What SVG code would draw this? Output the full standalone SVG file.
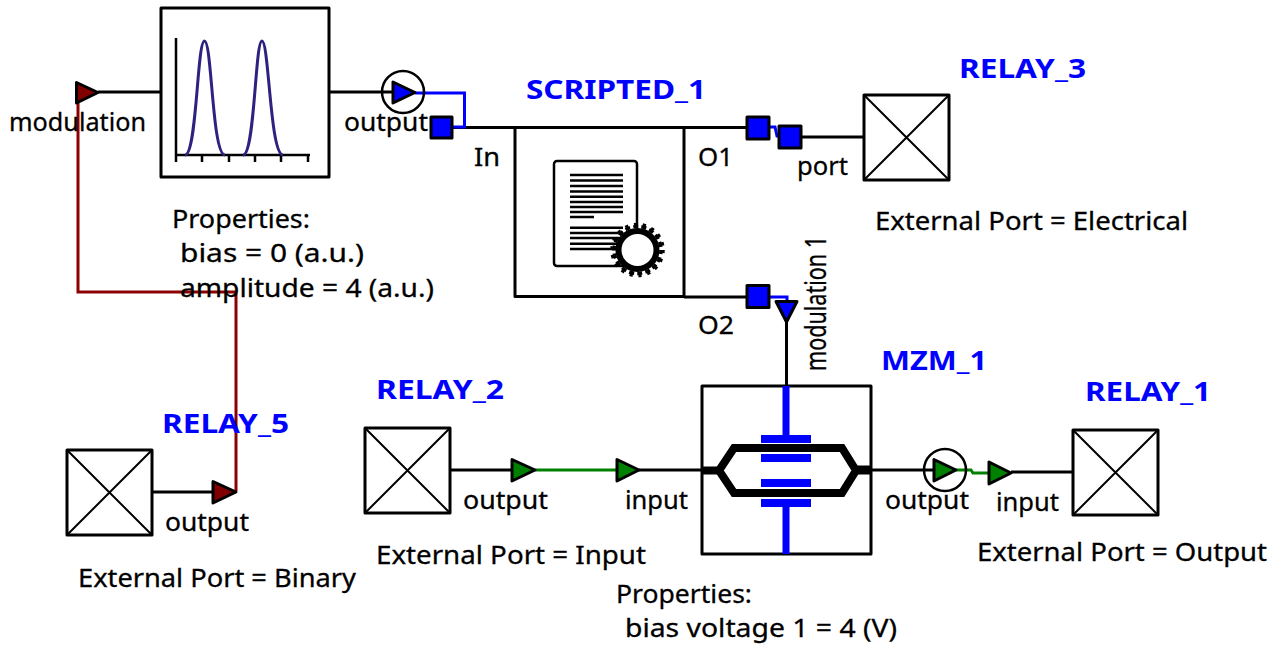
<svg xmlns="http://www.w3.org/2000/svg" width="1282" height="650" viewBox="0 0 1282 650">
<style>
.t{font-family:"Noto Sans","DejaVu Sans",sans-serif;font-size:26px;fill:#000;stroke:#000;stroke-width:.3}
.n{font-family:"Noto Sans","DejaVu Sans",sans-serif;font-size:27.500px;font-weight:700;fill:#0000ff}
.box{fill:#fff;stroke:#000;stroke-width:3;stroke-linejoin:round}
.x{stroke:#000;stroke-width:2;fill:none}
.w{fill:none;stroke:#000;stroke-width:3}
.r{fill:none;stroke:#8b0000;stroke-width:3}
.b{fill:none;stroke:#0000ff;stroke-width:3}
.g{fill:none;stroke:#008000;stroke-width:3}
.tr{stroke:#000;stroke-width:3;stroke-linejoin:round}
.sq{fill:#0000ff;stroke:#000;stroke-width:3;stroke-linejoin:round}
.ring{fill:none;stroke:#000;stroke-width:2.500}
.bl{fill:#0000ff}
</style>
<rect width="1282" height="650" fill="#fff"/>
<g id="connectors">
<path class="w" d="M98 92H161M330 92H393M452 127.500H515M684 127.500H747M684 297H747M801 137H864M786.500 322V386M450 470H512M639 470H702M871 470H934M1011 472H1073M152 492H213"/>
<path class="r" d="M78 103V292H236V491"/>
<path class="b" d="M415 93H464.500V127H452M769 127H775L777 136H779M769 297H787V301"/>
<path class="g" d="M535 470H617M956 470H971L973 473H989"/>
</g>
<g id="pulse">
<rect class="box" x="161" y="8" width="168" height="169"/>
<path d="M176 38V155M176 155H310M176 155V162M202 155V162M229 155V162M255 155V162M281 155V162M308 155V162" fill="none" stroke="#000" stroke-width="2.500"/>
<path d="M185 155C197 155 197 41 204.500 41C212 41 212 155 225 155M243 155C255 155 255 41 262 41C269 41 270 155 283 155" fill="none" stroke="#2e2280" stroke-width="3"/>
</g>
<g id="port-modulation"><path class="tr" fill="#800000" d="M76.500 82.500V103L98 92.500Z"/></g>
<g id="port-pulse-output">
<circle class="ring" cx="403" cy="92" r="21"/>
<path class="tr" fill="#0000ff" d="M393 82V103L415 92.500Z"/>
<rect class="sq" x="431" y="117" width="21" height="21"/>
</g>
<g id="scripted">
<rect class="box" x="515" y="127.500" width="169" height="169"/>
<rect x="554" y="161" width="83" height="105" rx="3" fill="#fff" stroke="#000" stroke-width="2.500"/>
<path d="M570 175H623M570 180.500H623M570 186H623M570 191.500H623M570 196.700H623M570 202H623M570 207H623M570 212H623M570 217H594M570 227.700H623M570 233H623M570 238H623M570 243.700H623M570 249H623" stroke="#000" stroke-width="2.500" fill="none"/>
<circle cx="637.500" cy="250" r="19" fill="#fff" stroke="#000" stroke-width="6"/>
<circle cx="637.500" cy="250" r="23.500" fill="none" stroke="#000" stroke-width="3.500" stroke-dasharray="5 3.200" stroke-dashoffset=".880"/>
<circle cx="637.500" cy="250" r="26" fill="none" stroke="#000" stroke-width="2.500" stroke-dasharray="3.300 5.780"/>
<rect class="sq" x="747" y="117" width="22" height="22"/>
<rect class="sq" x="747" y="285.500" width="22" height="22"/>
</g>
<g id="relay-3">
<rect class="box" x="864" y="95" width="85" height="85"/>
<path class="x" d="M864 95L949 180M949 95L864 180"/>
<rect class="sq" x="779" y="126" width="22" height="22"/>
</g>
<g id="mzm">
<rect class="box" x="702" y="386" width="169" height="168"/>
<path d="M786 386V436M786 506V554" stroke="#0000ff" stroke-width="7" fill="none"/>
<rect class="bl" x="761" y="435" width="50" height="8"/>
<rect class="bl" x="761" y="454" width="50" height="8"/>
<rect class="bl" x="761" y="479" width="50" height="8"/>
<rect class="bl" x="761" y="499" width="50" height="8"/>
<path d="M719 470.500L734 448H842L856 470.500L842 493H734Z" fill="none" stroke="#000" stroke-width="8"/>
<path d="M702 470.500H720" stroke="#000" stroke-width="8"/>
<path d="M855 470H872" stroke="#000" stroke-width="9"/>
<path class="tr" fill="#0000ff" d="M776 301.500H797L786.500 322Z"/>
<path class="tr" fill="#008000" d="M617 459.500V481L639 470Z"/>
<circle class="ring" cx="945" cy="470" r="21"/>
<path class="tr" fill="#008000" d="M934 459.500V481L956 470Z"/>
</g>
<g id="relay-1">
<rect class="box" x="1073" y="430" width="85" height="85"/>
<path class="x" d="M1073 430L1158 515M1158 430L1073 515"/>
<path class="tr" fill="#008000" d="M989 462V484L1011 473Z"/>
</g>
<g id="relay-2">
<rect class="box" x="365" y="428" width="85" height="85"/>
<path class="x" d="M365 428L450 513M450 428L365 513"/>
<path class="tr" fill="#008000" d="M512 459.500V481L535 470Z"/>
</g>
<g id="relay-5">
<rect class="box" x="67" y="450" width="85" height="85"/>
<path class="x" d="M67 450L152 535M152 450L67 535"/>
<path class="tr" fill="#800000" d="M213 481.500V503L236 492Z"/>
</g>
<g id="labels">
<text class="t" x="9" y="131" textLength="137" lengthAdjust="spacingAndGlyphs">modulation</text>
<text class="t" x="344" y="131" textLength="84" lengthAdjust="spacingAndGlyphs">output</text>
<text class="t" x="474" y="166" textLength="26" lengthAdjust="spacingAndGlyphs">In</text>
<text class="t" x="698" y="166" textLength="35" lengthAdjust="spacingAndGlyphs">O1</text>
<text class="t" x="698" y="334" textLength="36" lengthAdjust="spacingAndGlyphs">O2</text>
<text class="t" x="797" y="175" textLength="51" lengthAdjust="spacingAndGlyphs">port</text>
<text class="n" x="526" y="99" textLength="180" lengthAdjust="spacingAndGlyphs">SCRIPTED_1</text>
<text class="n" x="959" y="78" textLength="127" lengthAdjust="spacingAndGlyphs">RELAY_3</text>
<text class="t" x="875" y="230" textLength="313" lengthAdjust="spacingAndGlyphs">External Port = Electrical</text>
<text class="t" style="font-size:29px" transform="translate(826 371) rotate(-90)" textLength="135" lengthAdjust="spacingAndGlyphs">modulation 1</text>
<text class="n" x="881" y="370" textLength="106" lengthAdjust="spacingAndGlyphs">MZM_1</text>
<text class="n" x="376" y="399" textLength="128" lengthAdjust="spacingAndGlyphs">RELAY_2</text>
<text class="n" x="1085" y="401" textLength="126" lengthAdjust="spacingAndGlyphs">RELAY_1</text>
<text class="n" x="162" y="433" textLength="127" lengthAdjust="spacingAndGlyphs">RELAY_5</text>
<text class="t" x="172" y="228" textLength="138" lengthAdjust="spacingAndGlyphs">Properties:</text>
<text class="t" x="180" y="262" textLength="184" lengthAdjust="spacingAndGlyphs">bias = 0 (a.u.)</text>
<text class="t" x="180" y="297" textLength="254" lengthAdjust="spacingAndGlyphs">amplitude = 4 (a.u.)</text>
<text class="t" x="165" y="531" textLength="84" lengthAdjust="spacingAndGlyphs">output</text>
<text class="t" x="78" y="587" textLength="278" lengthAdjust="spacingAndGlyphs">External Port = Binary</text>
<text class="t" x="463" y="509" textLength="85" lengthAdjust="spacingAndGlyphs">output</text>
<text class="t" x="625" y="509" textLength="63" lengthAdjust="spacingAndGlyphs">input</text>
<text class="t" x="376" y="564" textLength="270" lengthAdjust="spacingAndGlyphs">External Port = Input</text>
<text class="t" x="885" y="509" textLength="84" lengthAdjust="spacingAndGlyphs">output</text>
<text class="t" x="996" y="511" textLength="63" lengthAdjust="spacingAndGlyphs">input</text>
<text class="t" x="977" y="561" textLength="290" lengthAdjust="spacingAndGlyphs">External Port = Output</text>
<text class="t" x="616" y="603" textLength="136" lengthAdjust="spacingAndGlyphs">Properties:</text>
<text class="t" x="625" y="637" textLength="272" lengthAdjust="spacingAndGlyphs">bias voltage 1 = 4 (V)</text>
</g>
</svg>
